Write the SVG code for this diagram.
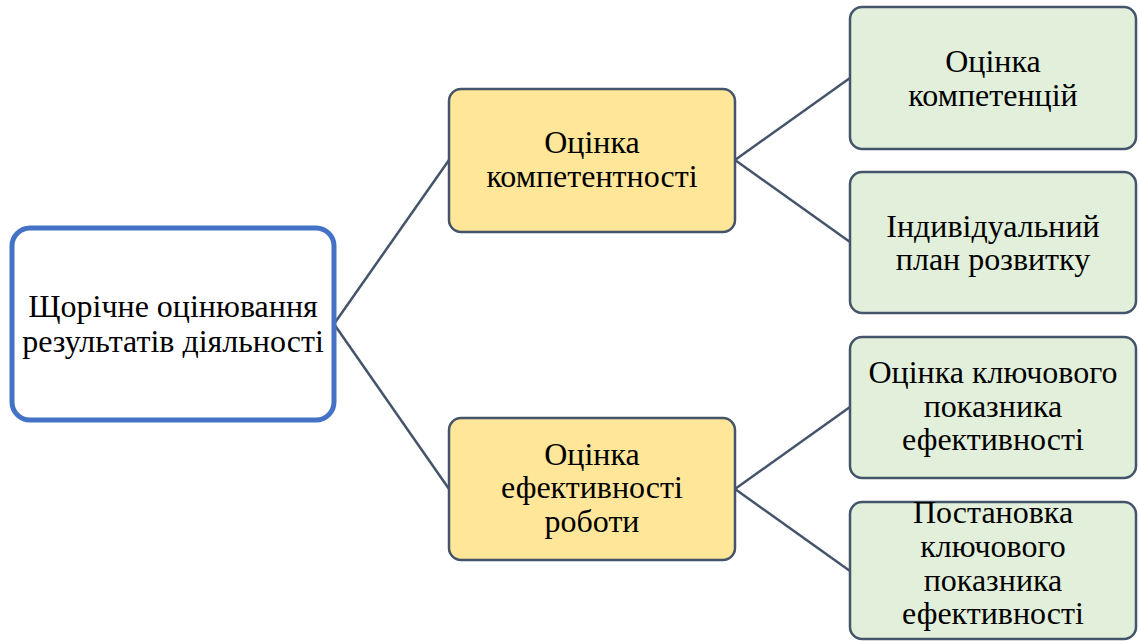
<svg xmlns="http://www.w3.org/2000/svg" width="1139" height="641" viewBox="0 0 1139 641">
<style>
.t{font-family:"Liberation Serif","Times New Roman",Tinos,"DejaVu Serif",serif;font-size:32px;fill:#000;text-anchor:middle}
.mid{fill:#FFE699;stroke:#44546A;stroke-width:2.5}
.leaf{fill:#E2EFDA;stroke:#44546A;stroke-width:2.5}
.root{fill:#FFFFFF;stroke:#4472C4;stroke-width:5}
.c{stroke:#44546A;stroke-width:2.5;fill:none}
</style>
<rect width="1139" height="641" fill="#FFFFFF"/>
<g id="connectors">
<path class="c" d="M334,324 L449,160"/>
<path class="c" d="M334,324 L449,489"/>
<path class="c" d="M735,160 L850,78"/>
<path class="c" d="M735,160 L850,242"/>
<path class="c" d="M735,489 L850,407"/>
<path class="c" d="M735,489 L850,571"/>
</g>
<g id="root">
<rect class="root" x="12" y="228" width="322" height="192" rx="18"/>
<text class="t" x="173" y="317">Щорічне оцінювання</text>
<text class="t" x="173" y="352">результатів діяльності</text>
</g>
<g id="competence">
<rect class="mid" x="449" y="89" width="286" height="143" rx="12"/>
<text class="t" x="592" y="153">Оцінка</text>
<text class="t" x="592" y="187">компетентності</text>
</g>
<g id="performance">
<rect class="mid" x="449" y="418" width="286" height="142" rx="12"/>
<text class="t" x="592" y="465">Оцінка</text>
<text class="t" x="592" y="498">ефективності</text>
<text class="t" x="592" y="532">роботи</text>
</g>
<g id="competencies">
<rect class="leaf" x="850" y="7" width="286" height="142" rx="12"/>
<text class="t" x="993" y="72">Оцінка</text>
<text class="t" x="993" y="106">компетенцій</text>
</g>
<g id="plan">
<rect class="leaf" x="850" y="172" width="286" height="141" rx="12"/>
<text class="t" x="993" y="237">Індивідуальний</text>
<text class="t" x="993" y="270">план розвитку</text>
</g>
<g id="kpi-eval">
<rect class="leaf" x="850" y="337" width="286" height="141" rx="12"/>
<text class="t" x="993" y="383">Оцінка ключового</text>
<text class="t" x="993" y="417">показника</text>
<text class="t" x="993" y="450">ефективності</text>
</g>
<g id="kpi-set">
<rect class="leaf" x="850" y="502" width="286" height="137" rx="12"/>
<text class="t" x="993" y="523">Постановка</text>
<text class="t" x="993" y="557">ключового</text>
<text class="t" x="993" y="591">показника</text>
<text class="t" x="993" y="624">ефективності</text>
</g>
</svg>
